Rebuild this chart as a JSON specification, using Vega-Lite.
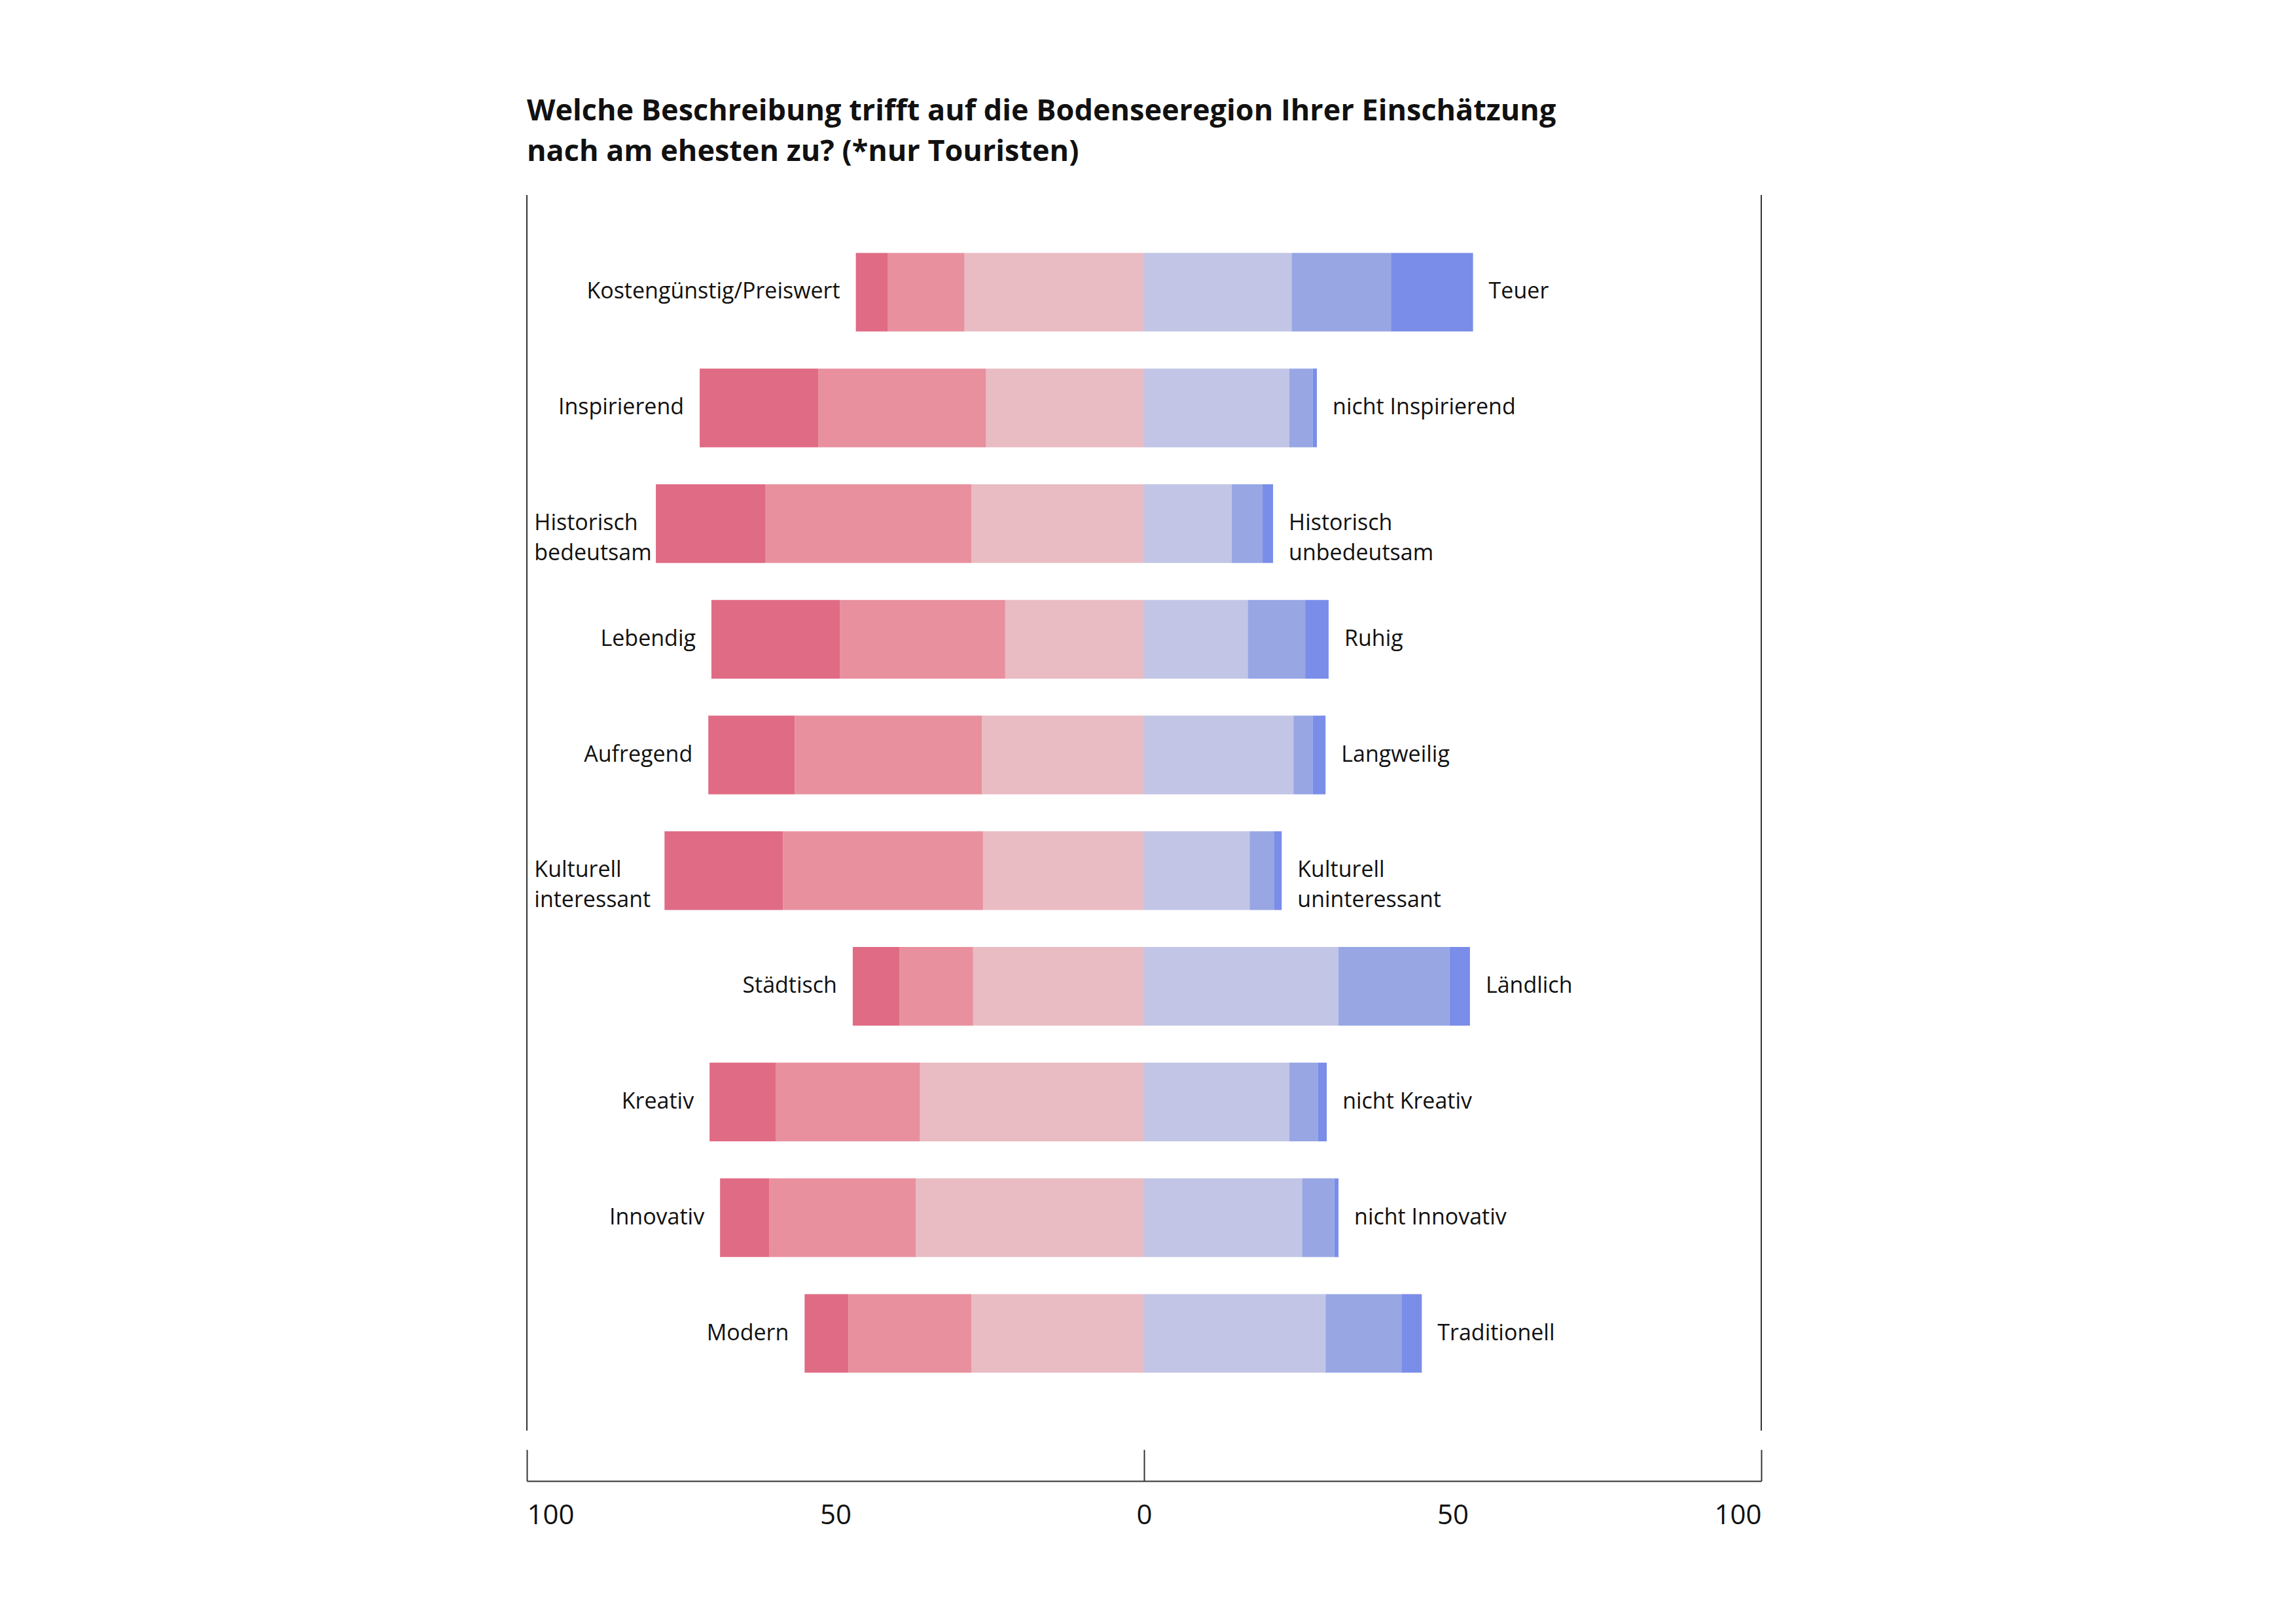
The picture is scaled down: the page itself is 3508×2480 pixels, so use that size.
{
  "$schema": "https://vega.github.io/schema/vega-lite/v6.json",
  "width": 1886,
  "height": 1888,
  "autosize": "none",
  "padding": {"left": 805, "top": 298, "right": 817, "bottom": 294},
  "background": "white",
  "title": {
    "text": ["Welche Beschreibung trifft auf die Bodenseeregion Ihrer Einschätzung", "nach am ehesten zu? (*nur Touristen)"],
    "anchor": "start",
    "frame": "group",
    "offset": 42,
    "font": "Open Sans",
    "fontSize": 45,
    "fontWeight": "bold",
    "lineHeight": 62,
    "color": "#111"
  },
  "datasets": {
    "bars": [
      {"item": "Kostengünstig/Preiswert", "cat": "1L", "value": -29.1},
      {"item": "Kostengünstig/Preiswert", "cat": "2L", "value": -12.4},
      {"item": "Kostengünstig/Preiswert", "cat": "3L", "value": -5.2},
      {"item": "Kostengünstig/Preiswert", "cat": "1R", "value": 23.9},
      {"item": "Kostengünstig/Preiswert", "cat": "2R", "value": 16.1},
      {"item": "Kostengünstig/Preiswert", "cat": "3R", "value": 13.3},
      {"item": "Inspirierend", "cat": "1L", "value": -25.6},
      {"item": "Inspirierend", "cat": "2L", "value": -27.2},
      {"item": "Inspirierend", "cat": "3L", "value": -19.2},
      {"item": "Inspirierend", "cat": "1R", "value": 23.5},
      {"item": "Inspirierend", "cat": "2R", "value": 3.8},
      {"item": "Inspirierend", "cat": "3R", "value": 0.7},
      {"item": "Historisch", "cat": "1L", "value": -28.0},
      {"item": "Historisch", "cat": "2L", "value": -33.4},
      {"item": "Historisch", "cat": "3L", "value": -17.7},
      {"item": "Historisch", "cat": "1R", "value": 14.2},
      {"item": "Historisch", "cat": "2R", "value": 5.0},
      {"item": "Historisch", "cat": "3R", "value": 1.7},
      {"item": "Lebendig", "cat": "1L", "value": -22.5},
      {"item": "Lebendig", "cat": "2L", "value": -26.8},
      {"item": "Lebendig", "cat": "3L", "value": -20.8},
      {"item": "Lebendig", "cat": "1R", "value": 16.8},
      {"item": "Lebendig", "cat": "2R", "value": 9.3},
      {"item": "Lebendig", "cat": "3R", "value": 3.8},
      {"item": "Aufregend", "cat": "1L", "value": -26.3},
      {"item": "Aufregend", "cat": "2L", "value": -30.3},
      {"item": "Aufregend", "cat": "3L", "value": -14.0},
      {"item": "Aufregend", "cat": "1R", "value": 24.2},
      {"item": "Aufregend", "cat": "2R", "value": 3.1},
      {"item": "Aufregend", "cat": "3R", "value": 2.1},
      {"item": "Kulturell", "cat": "1L", "value": -26.1},
      {"item": "Kulturell", "cat": "2L", "value": -32.4},
      {"item": "Kulturell", "cat": "3L", "value": -19.2},
      {"item": "Kulturell", "cat": "1R", "value": 17.1},
      {"item": "Kulturell", "cat": "2R", "value": 4.0},
      {"item": "Kulturell", "cat": "3R", "value": 1.2},
      {"item": "Städtisch", "cat": "1L", "value": -27.7},
      {"item": "Städtisch", "cat": "2L", "value": -11.9},
      {"item": "Städtisch", "cat": "3L", "value": -7.6},
      {"item": "Städtisch", "cat": "1R", "value": 31.5},
      {"item": "Städtisch", "cat": "2R", "value": 18.0},
      {"item": "Städtisch", "cat": "3R", "value": 3.3},
      {"item": "Kreativ", "cat": "1L", "value": -36.3},
      {"item": "Kreativ", "cat": "2L", "value": -23.4},
      {"item": "Kreativ", "cat": "3L", "value": -10.7},
      {"item": "Kreativ", "cat": "1R", "value": 23.5},
      {"item": "Kreativ", "cat": "2R", "value": 4.7},
      {"item": "Kreativ", "cat": "3R", "value": 1.4},
      {"item": "Innovativ", "cat": "1L", "value": -37.0},
      {"item": "Innovativ", "cat": "2L", "value": -23.7},
      {"item": "Innovativ", "cat": "3L", "value": -8.0},
      {"item": "Innovativ", "cat": "1R", "value": 25.6},
      {"item": "Innovativ", "cat": "2R", "value": 5.2},
      {"item": "Innovativ", "cat": "3R", "value": 0.7},
      {"item": "Modern", "cat": "1L", "value": -28.0},
      {"item": "Modern", "cat": "2L", "value": -19.9},
      {"item": "Modern", "cat": "3L", "value": -7.1},
      {"item": "Modern", "cat": "1R", "value": 29.4},
      {"item": "Modern", "cat": "2R", "value": 12.3},
      {"item": "Modern", "cat": "3R", "value": 3.3}
    ],
    "leftLabels": [
      {"item": "Kostengünstig/Preiswert", "x": -46.7, "label": "Kostengünstig/Preiswert"},
      {"item": "Inspirierend", "x": -72.0, "label": "Inspirierend"},
      {"item": "Lebendig", "x": -70.1, "label": "Lebendig"},
      {"item": "Aufregend", "x": -70.6, "label": "Aufregend"},
      {"item": "Städtisch", "x": -47.2, "label": "Städtisch"},
      {"item": "Kreativ", "x": -70.4, "label": "Kreativ"},
      {"item": "Innovativ", "x": -68.7, "label": "Innovativ"},
      {"item": "Modern", "x": -55.0, "label": "Modern"}
    ],
    "wrapLabels": [
      {"item": "Historisch", "x": -98.8, "label": "Historisch\nbedeutsam"},
      {"item": "Kulturell", "x": -98.8, "label": "Kulturell\ninteressant"}
    ],
    "rightLabels": [
      {"item": "Kostengünstig/Preiswert", "x": 53.3, "label": "Teuer"},
      {"item": "Inspirierend", "x": 28.0, "label": "nicht Inspirierend"},
      {"item": "Historisch", "x": 20.9, "label": "Historisch\nunbedeutsam"},
      {"item": "Lebendig", "x": 29.9, "label": "Ruhig"},
      {"item": "Aufregend", "x": 29.4, "label": "Langweilig"},
      {"item": "Kulturell", "x": 22.3, "label": "Kulturell\nuninteressant"},
      {"item": "Städtisch", "x": 52.8, "label": "Ländlich"},
      {"item": "Kreativ", "x": 29.6, "label": "nicht Kreativ"},
      {"item": "Innovativ", "x": 31.5, "label": "nicht Innovativ"},
      {"item": "Modern", "x": 45.0, "label": "Traditionell"}
    ],
    "frame": [{"x": -100}, {"x": 100}]
  },
  "layer": [
    {
      "data": {"name": "bars"},
      "mark": {"type": "bar"},
      "encoding": {
        "y": {
          "field": "item", "type": "nominal",
          "sort": ["Kostengünstig/Preiswert", "Inspirierend", "Historisch", "Lebendig", "Aufregend", "Kulturell", "Städtisch", "Kreativ", "Innovativ", "Modern"],
          "scale": {"paddingInner": 0.32, "paddingOuter": 0.5},
          "axis": null
        },
        "x": {
          "field": "value", "type": "quantitative", "stack": "zero",
          "scale": {"domain": [-100, 100], "nice": false},
          "axis": {
            "title": null,
            "values": [-100, -50, 0, 50, 100],
            "labelExpr": "abs(datum.value)",
            "offset": 77,
            "grid": false,
            "domainColor": "#333",
            "domainWidth": 2,
            "tickColor": "#333",
            "tickWidth": 2,
            "tickSize": -48,
            "tickOpacity": {"condition": {"test": "datum.value % 100 === 0", "value": 1}, "value": 0},
            "labelFont": "Open Sans",
            "labelFontSize": 42,
            "labelColor": "#111",
            "labelPadding": 80
          }
        },
        "color": {
          "field": "cat", "type": "nominal", "legend": null,
          "scale": {
            "domain": ["3L", "2L", "1L", "1R", "2R", "3R"],
            "range": ["#e06b85", "#e8909e", "#e9bbc3", "#c2c5e5", "#98a6e4", "#7a8de8"]
          }
        },
        "order": {"field": "cat", "sort": "ascending"}
      }
    },
    {
      "data": {"name": "leftLabels"},
      "mark": {"type": "text", "align": "right", "dx": -24, "font": "Open Sans", "fontSize": 34, "color": "#111"},
      "encoding": {
        "y": {"field": "item", "type": "nominal", "sort": ["Kostengünstig/Preiswert", "Inspirierend", "Historisch", "Lebendig", "Aufregend", "Kulturell", "Städtisch", "Kreativ", "Innovativ", "Modern"]},
        "x": {"field": "x", "type": "quantitative"},
        "text": {"field": "label"}
      }
    },
    {
      "data": {"name": "wrapLabels"},
      "mark": {"type": "text", "align": "left", "font": "Open Sans", "fontSize": 34, "color": "#111", "lineBreak": "\n", "lineHeight": 46},
      "encoding": {
        "y": {"field": "item", "type": "nominal", "sort": ["Kostengünstig/Preiswert", "Inspirierend", "Historisch", "Lebendig", "Aufregend", "Kulturell", "Städtisch", "Kreativ", "Innovativ", "Modern"]},
        "x": {"field": "x", "type": "quantitative"},
        "text": {"field": "label"}
      }
    },
    {
      "data": {"name": "rightLabels"},
      "mark": {"type": "text", "align": "left", "dx": 24, "font": "Open Sans", "fontSize": 34, "color": "#111", "lineBreak": "\n", "lineHeight": 46},
      "encoding": {
        "y": {"field": "item", "type": "nominal", "sort": ["Kostengünstig/Preiswert", "Inspirierend", "Historisch", "Lebendig", "Aufregend", "Kulturell", "Städtisch", "Kreativ", "Innovativ", "Modern"]},
        "x": {"field": "x", "type": "quantitative"},
        "text": {"field": "label"}
      }
    },
    {
      "data": {"name": "frame"},
      "mark": {"type": "rule", "color": "#333", "strokeWidth": 2},
      "encoding": {"x": {"field": "x", "type": "quantitative"}}
    }
  ],
  "config": {"view": {"stroke": null}}
}
